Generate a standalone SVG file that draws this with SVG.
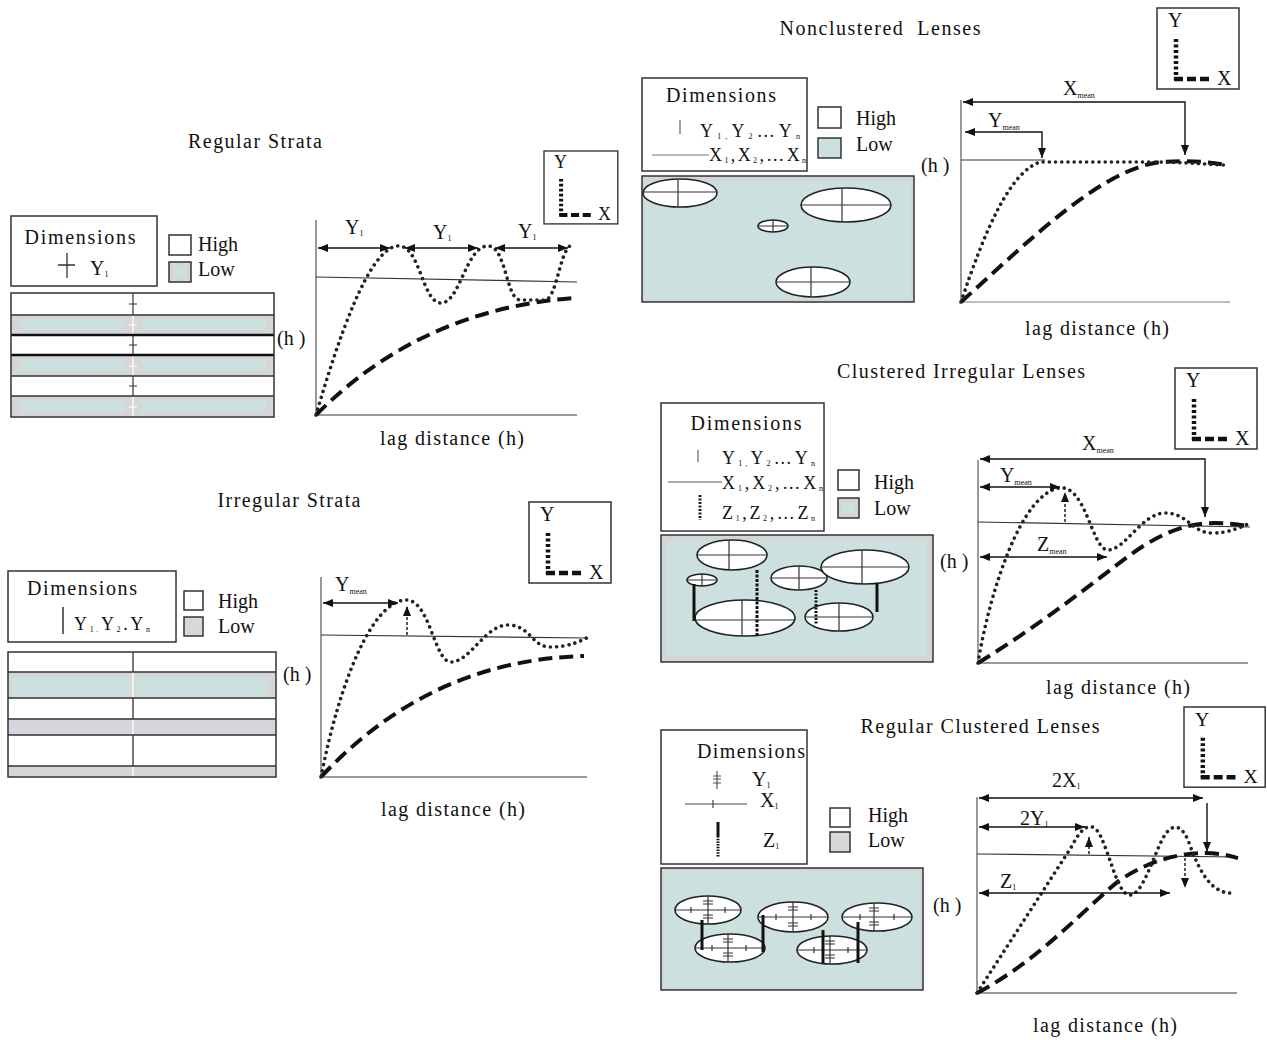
<svg xmlns="http://www.w3.org/2000/svg" width="1267" height="1040" viewBox="0 0 1267 1040">
<style>
text{font-family:"Liberation Serif","Times New Roman",serif;fill:#111}
.t19{font-size:20px}
.t20{font-size:20px}
.t17{font-size:18px}
.sub{font-size:8px}
.pre{white-space:pre}
.box{fill:#fff;stroke:#333;stroke-width:1.5}
.axis{stroke:#9a9a9a;stroke-width:2;fill:none}
.sill{stroke:#333;stroke-width:1.2;fill:none}
.dot{stroke:#222;stroke-width:3.6;stroke-dasharray:0.01 6.2;stroke-linecap:round;fill:none}
.dash{stroke:#111;stroke-width:4;stroke-dasharray:14 7;fill:none}
.ln{stroke:#111;stroke-width:1.4;fill:none}
.lnd{stroke:#111;stroke-width:1.4;stroke-dasharray:3 2;fill:none}
.lens{fill:#fff;stroke:#222;stroke-width:1.6}
.lx{stroke:#333;stroke-width:1.2;fill:none}
.link{stroke:#111;stroke-width:3;fill:none}
.vd{stroke:#111;stroke-width:4.5;stroke-dasharray:3 2.5;fill:none}
.hd{stroke:#111;stroke-width:4.5;stroke-dasharray:9 4;fill:none}
.grey{fill:#d6d6d6}
.teal{fill:#cde0e0}
</style>
<defs>
<marker id="ah" viewBox="0 0 10 8" refX="10" refY="4" markerWidth="11" markerHeight="8" orient="auto-start-reverse" markerUnits="userSpaceOnUse"><path d="M0,0L10,4L0,8z" fill="#111"/></marker>
<g id="yxinner">
<rect class="box" x="0" y="0" width="82" height="81"/>
<text class="t19" x="11" y="19" font-size="21">Y</text>
<path class="vd" d="M19,31V72"/>
<path class="hd" d="M17,71H56"/>
<text class="t19" x="60" y="77" font-size="21">X</text>
</g>
</defs>
<rect width="1267" height="1040" fill="#fff"/>

<!-- ============ Regular Strata ============ -->
<g id="regular-strata">
<text class="t19" x="255" y="148" text-anchor="middle" textLength="134">Regular Strata</text>
<g id="rs-dims">
<rect class="box" x="11" y="216" width="146" height="70"/>
<text class="t19" x="80" y="244" text-anchor="middle" textLength="111">Dimensions</text>
<path d="M67,253V278M58,265H75" stroke="#333" stroke-width="1.3"/>
<text class="t19" x="90" y="275">Y<tspan class="sub" dy="2">1</tspan></text>
</g>
<g id="rs-legend">
<rect class="box" x="169" y="235" width="22" height="20"/>
<text class="t20" x="198" y="251">High</text>
<rect x="169" y="262" width="22" height="20" fill="#d5d5d5" stroke="#333" stroke-width="1.5"/>
<rect x="174" y="267" width="12" height="10" class="teal"/>
<text class="t20" x="198" y="276">Low</text>
</g>
<g id="rs-block">
<rect x="11" y="293" width="263" height="124" fill="#fff"/>
<rect x="11" y="315" width="263" height="20" class="grey"/>
<rect x="11" y="355" width="263" height="21" class="grey"/>
<rect x="11" y="396" width="263" height="21" class="grey"/>
<rect x="21" y="319" width="104" height="11" class="teal"/>
<rect x="141" y="319" width="125" height="11" class="teal"/>
<rect x="21" y="359" width="104" height="12" class="teal"/>
<rect x="141" y="359" width="125" height="12" class="teal"/>
<rect x="21" y="400" width="104" height="12" class="teal"/>
<rect x="141" y="400" width="125" height="12" class="teal"/>
<path d="M133,293V315M133,335V355M133,376V396M129,304H137M129,345H137M129,386H137" stroke="#333" stroke-width="1.2"/>
<path d="M133,315V335M133,355V376M133,396V417M129,325H137M129,366H137M129,407H137" stroke="#fff" stroke-width="1.2"/>
<path d="M11,315H274M11,376H274M11,396H274" stroke="#333" stroke-width="1.3"/>
<path d="M11,335H274M11,355H274" stroke="#111" stroke-width="2.4"/>
<rect x="11" y="293" width="263" height="124" fill="none" stroke="#333" stroke-width="1.5"/>
</g>
<text class="t19" x="277" y="345">(h )</text>
<g id="rs-chart">
<path class="axis" d="M316,220V415H577"/>
<path class="sill" d="M316,277L577,282"/>
<path class="dash" d="M316,415Q420,310 573,298"/>
<path class="dot" d="M316,415C338,340 368,250 397,246C420,243 422,303 441,303C460,303 466,246 488,246C506,246 506,299 520,300L545,300C556,300 560,252 570,246"/>
<text class="t19" x="345" y="234">Y<tspan class="sub" dy="2">1</tspan></text>
<text class="t19" x="433" y="239">Y<tspan class="sub" dy="2">1</tspan></text>
<text class="t19" x="518" y="238">Y<tspan class="sub" dy="2">1</tspan></text>
<text class="t19" x="452" y="445" text-anchor="middle" textLength="144">lag distance (h)</text>
</g>
<use href="#yxinner" transform="translate(544,151) scale(0.9)"/>
</g>

<!-- ============ Irregular Strata ============ -->
<g id="irregular-strata">
<text class="t19" x="289" y="507" text-anchor="middle" textLength="143">Irregular Strata</text>
<g id="is-dims">
<rect class="box" x="8" y="571" width="168" height="71"/>
<text class="t19" x="82" y="595" text-anchor="middle" textLength="110">Dimensions</text>
<path d="M63,607V634" stroke="#333" stroke-width="1.5"/>
<text class="t17" x="74" y="630" textLength="76">Y<tspan class="sub" dy="2">1.</tspan><tspan dy="-2">Y</tspan><tspan class="sub" dy="2">2</tspan><tspan dy="-2">.Y</tspan><tspan class="sub" dy="2">n</tspan></text>
</g>
<g id="is-legend">
<rect class="box" x="184" y="591" width="19" height="19"/>
<text class="t20" x="218" y="608">High</text>
<rect x="184" y="617" width="19" height="19" fill="#d8d8dc" stroke="#333" stroke-width="1.5"/>
<text class="t20" x="218" y="633">Low</text>
</g>
<g id="is-block">
<rect x="8" y="652" width="268" height="125" fill="#fff"/>
<rect x="8" y="672" width="268" height="26" class="grey"/>
<rect x="12" y="677" width="118" height="20" class="teal"/>
<rect x="137" y="677" width="130" height="20" class="teal"/>
<rect x="8" y="719" width="268" height="16" fill="#d5d5dd"/>
<rect x="8" y="766" width="268" height="11" class="grey"/>
<path d="M133,652V672M133,698V719M133,735V766" stroke="#333" stroke-width="1.3"/>
<path d="M133,672V698M133,719V735M133,766V777" stroke="#fff" stroke-width="1.3"/>
<path d="M8,672H276M8,698H276M8,719H276M8,735H276M8,766H276" stroke="#333" stroke-width="1.3"/>
<rect x="8" y="652" width="268" height="125" fill="none" stroke="#333" stroke-width="1.5"/>
</g>
<text class="t19" x="283" y="681">(h )</text>
<g id="is-chart">
<path class="axis" d="M321,577V777H587"/>
<path class="sill" d="M321,635L587,638"/>
<path class="dash" d="M321,777Q430,660 584,656"/>
<path class="dot" d="M321,777C340,680 372,603 405,600C430,598 434,662 451,662C470,662 485,625 508,625C530,625 532,647 550,647C570,647 580,641 591,636"/>
<text class="t19" x="335" y="591">Y<tspan class="sub" dy="3">mean</tspan></text>
<text class="t19" x="453" y="816" text-anchor="middle" textLength="144">lag distance (h)</text>
</g>
<use href="#yxinner" transform="translate(529,502)"/>
</g>

<!-- ============ Nonclustered Lenses ============ -->
<g id="nonclustered-lenses">
<text class="t19 pre" x="880" y="35" text-anchor="middle" textLength="201" xml:space="preserve">Nonclustered  Lenses</text>
<g id="nc-dims">
<rect class="box" x="642" y="78" width="165" height="93"/>
<text class="t19" x="721" y="102" text-anchor="middle" textLength="110">Dimensions</text>
<path d="M680,120V134" stroke="#888" stroke-width="1.6"/>
<text class="t17" x="700" y="137" textLength="100">Y<tspan class="sub" dy="2">1,</tspan><tspan dy="-2">Y</tspan><tspan class="sub" dy="2">2</tspan><tspan dy="-2">…Y</tspan><tspan class="sub" dy="2">n</tspan></text>
<path d="M652,155H709" stroke="#777" stroke-width="1.2"/>
<text class="t17" x="709" y="161" textLength="97">X<tspan class="sub" dy="2">1</tspan><tspan dy="-2">,X</tspan><tspan class="sub" dy="2">2</tspan><tspan dy="-2">,…X</tspan><tspan class="sub" dy="2">n</tspan></text>
</g>
<g id="nc-legend">
<rect class="box" x="818" y="107" width="23" height="21"/>
<text class="t20" x="856" y="125">High</text>
<rect x="818" y="138" width="23" height="20" fill="#cde0e0" stroke="#333" stroke-width="1.5"/>
<text class="t20" x="856" y="151">Low</text>
</g>
<g id="nc-block">
<rect x="642" y="176" width="272" height="126" fill="#d3d6d8" stroke="#333" stroke-width="1.5"/>
<rect x="645" y="181" width="266" height="118" class="teal"/>
<ellipse class="lens" cx="680" cy="193" rx="37" ry="14"/>
<path class="lx" d="M643,192H717M678,179V207"/>
<ellipse class="lens" cx="846" cy="205" rx="45" ry="17"/>
<path class="lx" d="M801,205H891M842,188V222"/>
<ellipse class="lens" cx="773" cy="226" rx="15" ry="6"/>
<path class="lx" d="M758,226H788M773,220V232"/>
<ellipse class="lens" cx="813" cy="282" rx="37" ry="15"/>
<path class="lx" d="M776,282H850M811,267V297"/>
</g>
<text class="t19" x="921" y="172">(h )</text>
<g id="nc-chart">
<path class="axis" d="M961,100V302"/>
<path d="M961,302H1230" stroke="#c9b9bb" stroke-width="2"/>
<path class="sill" d="M961,160H1045"/>
<path class="dash" d="M961,302C1030,240 1100,170 1160,162C1190,160 1210,162 1226,165"/>
<path class="dot" d="M961,302C985,230 1010,172 1040,162L1150,162C1190,162 1210,165 1228,165"/>
<text class="t19" x="1063" y="95">X<tspan class="sub" dy="3">mean</tspan></text>
<text class="t19" x="988" y="127">Y<tspan class="sub" dy="3">mean</tspan></text>
<text class="t19" x="1097" y="335" text-anchor="middle" textLength="144">lag distance (h)</text>
</g>
<use href="#yxinner" transform="translate(1157,8)"/>
</g>

<!-- ============ Clustered Irregular Lenses ============ -->
<g id="clustered-irregular-lenses">
<text class="t19" x="961" y="378" text-anchor="middle" textLength="248">Clustered Irregular Lenses</text>
<g id="ci-dims">
<rect class="box" x="661" y="403" width="163" height="128"/>
<text class="t19" x="746" y="430" text-anchor="middle" textLength="111">Dimensions</text>
<path d="M698,450V462" stroke="#888" stroke-width="1.6"/>
<text class="t17" x="722" y="464" textLength="93">Y<tspan class="sub" dy="2">1,</tspan><tspan dy="-2">Y</tspan><tspan class="sub" dy="2">2</tspan><tspan dy="-2">…Y</tspan><tspan class="sub" dy="2">n</tspan></text>
<path d="M668,482H722" stroke="#555" stroke-width="1.2"/>
<text class="t17" x="722" y="489" textLength="101">X<tspan class="sub" dy="2">1</tspan><tspan dy="-2">,X</tspan><tspan class="sub" dy="2">2</tspan><tspan dy="-2">,…X</tspan><tspan class="sub" dy="2">n</tspan></text>
<path d="M700,495V520" stroke="#222" stroke-width="3" stroke-dasharray="2 1.5"/>
<text class="t17" x="722" y="519" textLength="93">Z<tspan class="sub" dy="2">1</tspan><tspan dy="-2">,Z</tspan><tspan class="sub" dy="2">2</tspan><tspan dy="-2">,…Z</tspan><tspan class="sub" dy="2">n</tspan></text>
</g>
<g id="ci-legend">
<rect class="box" x="838" y="470" width="21" height="20"/>
<text class="t20" x="874" y="489">High</text>
<rect x="838" y="498" width="21" height="20" fill="#d5d5d5" stroke="#333" stroke-width="1.5"/>
<rect x="842" y="502" width="13" height="12" class="teal"/>
<text class="t20" x="874" y="515">Low</text>
</g>
<g id="ci-block">
<rect x="661" y="535" width="272" height="127" fill="#d3d6d8" stroke="#333" stroke-width="1.5"/>
<rect x="667" y="541" width="260" height="115" class="teal"/>
<ellipse class="lens" cx="732" cy="555" rx="35" ry="15"/>
<path class="lx" d="M697,555H767M729,540V570"/>
<ellipse class="lens" cx="702" cy="580" rx="15" ry="6"/>
<path class="lx" d="M687,580H717M702,574V586"/>
<ellipse class="lens" cx="745" cy="618" rx="50" ry="18"/>
<path class="lx" d="M695,620H795M742,600V636"/>
<ellipse class="lens" cx="799" cy="578" rx="28" ry="12"/>
<path class="lx" d="M771,578H827M799,566V590"/>
<ellipse class="lens" cx="865" cy="567" rx="44" ry="17"/>
<path class="lx" d="M821,567H909M862,550V584"/>
<ellipse class="lens" cx="839" cy="617" rx="34" ry="14"/>
<path class="lx" d="M805,617H873M839,603V631"/>
<path class="link" d="M694,584V621"/>
<path class="link" d="M757,570V636" stroke-dasharray="3 1.5"/>
<path class="link" d="M816,590V624" stroke-dasharray="2 1.5"/>
<path class="link" d="M877,583V612"/>
</g>
<text class="t19" x="940" y="568">(h )</text>
<g id="ci-chart">
<path class="axis" d="M978,460V663H1248"/>
<path class="sill" d="M978,522L1250,527"/>
<path class="dash" d="M978,663C1040,625 1090,585 1130,555C1165,530 1190,523 1215,523C1230,523 1240,525 1248,526"/>
<path class="dot" d="M978,663C990,590 1022,492 1060,488C1086,485 1092,550 1108,550C1125,550 1142,513 1165,513C1188,513 1192,533 1212,533C1230,533 1240,527 1251,523"/>
<text class="t19" x="1082" y="450">X<tspan class="sub" dy="3">mean</tspan></text>
<text class="t19" x="1000" y="482">Y<tspan class="sub" dy="3">mean</tspan></text>
<text class="t19" x="1037" y="551">Z<tspan class="sub" dy="3">mean</tspan></text>
<text class="t19" x="1118" y="694" text-anchor="middle" textLength="144">lag distance (h)</text>
</g>
<use href="#yxinner" transform="translate(1175,368)"/>
</g>

<!-- ============ Regular Clustered Lenses ============ -->
<g id="regular-clustered-lenses">
<text class="t19" x="980" y="733" text-anchor="middle" textLength="239">Regular Clustered Lenses</text>
<g id="rc-dims">
<rect class="box" x="661" y="730" width="146" height="134"/>
<text class="t19" x="697" y="758" textLength="108">Dimensions</text>
<path d="M717,771V789M713,776H721M713,779H721M713,783H721" stroke="#555" stroke-width="1.2"/>
<text class="t19" x="752" y="786">Y<tspan class="sub" dy="2">1</tspan></text>
<path d="M685,804H747M713,800V808" stroke="#444" stroke-width="1.2"/>
<text class="t19" x="760" y="807">X<tspan class="sub" dy="2">1</tspan></text>
<path d="M718,822V836" stroke="#111" stroke-width="3"/>
<path d="M718,836V857" stroke="#111" stroke-width="3" stroke-dasharray="1.5 1.2"/>
<text class="t19" x="763" y="847">Z<tspan class="sub" dy="2">1</tspan></text>
</g>
<g id="rc-legend">
<rect class="box" x="830" y="808" width="20" height="19"/>
<text class="t20" x="868" y="822">High</text>
<rect x="830" y="832" width="20" height="20" fill="#d8d8d8" stroke="#333" stroke-width="1.5"/>
<text class="t20" x="868" y="847">Low</text>
</g>
<g id="rc-block">
<rect x="661" y="868" width="262" height="122" fill="#d3d6d8" stroke="#333" stroke-width="1.5"/>
<rect x="664" y="871" width="256" height="116" class="teal"/>
<ellipse class="lens" cx="708" cy="910" rx="33" ry="14"/>
<path class="lx" d="M675,910H741M708,896V924M703,901H713M703,904H713M703,915H713M703,918H713M691,907V913M725,907V913"/>
<ellipse class="lens" cx="793" cy="917" rx="35" ry="15"/>
<path class="lx" d="M758,917H828M793,902V932M788,907H798M788,910H798M788,923H798M788,926H798M776,914V920M811,914V920"/>
<ellipse class="lens" cx="877" cy="917" rx="35" ry="14"/>
<path class="lx" d="M842,917H912M874,903V931M869,908H879M869,911H879M869,922H879M869,925H879M860,914V920M894,914V920"/>
<ellipse class="lens" cx="730" cy="948" rx="35" ry="14"/>
<path class="lx" d="M695,948H765M728,934V962M723,939H733M723,942H733M723,953H733M723,956H733M712,945V951M746,945V951"/>
<ellipse class="lens" cx="832" cy="950" rx="35" ry="14"/>
<path class="lx" d="M797,950H867M830,936V964M825,941H835M825,944H835M825,955H835M825,958H835M814,947V953M848,947V953"/>
<path class="link" d="M702,920V950"/>
<path class="link" d="M763,915V952"/>
<path class="link" d="M823,930V963"/>
<path class="link" d="M858,922V963"/>
</g>
<text class="t19" x="933" y="912">(h )</text>
<g id="rc-chart">
<path class="axis" d="M977,797V993H1237"/>
<path class="sill" d="M977,854L1237,857"/>
<path class="dash" d="M977,993C1040,960 1088,905 1120,880C1150,860 1180,853 1205,853C1220,853 1230,856 1238,858"/>
<path class="dot" d="M977,993L1072,846C1082,826 1092,820 1100,835C1112,860 1118,895 1130,895C1142,895 1152,860 1162,840C1170,824 1180,822 1188,840C1198,868 1210,895 1234,893"/>
<text class="t19" x="1052" y="787">2X<tspan class="sub" dy="2">1</tspan></text>
<text class="t19" x="1020" y="825">2Y<tspan class="sub" dy="2">1</tspan></text>
<text class="t19" x="1000" y="888">Z<tspan class="sub" dy="2">1</tspan></text>
<text class="t19" x="1105" y="1032" text-anchor="middle" textLength="144">lag distance (h)</text>
</g>
<use href="#yxinner" transform="translate(1184,707) scale(0.99)"/>
</g>

<!-- ============ Connectors (arrows) ============ -->
<g id="connectors">
<path class="ln" d="M318,248H390" marker-start="url(#ah)" marker-end="url(#ah)"/>
<path class="ln" d="M405,248H478" marker-start="url(#ah)" marker-end="url(#ah)"/>
<path class="ln" d="M495,248H568" marker-start="url(#ah)" marker-end="url(#ah)"/>
<path class="ln" d="M323,603H398" marker-start="url(#ah)" marker-end="url(#ah)"/>
<path class="lnd" d="M407,635V606" marker-end="url(#ah)"/>
<path class="ln" d="M1185,155V102H963" marker-start="url(#ah)" marker-end="url(#ah)"/>
<path class="ln" d="M1042,158V132H965" marker-start="url(#ah)" marker-end="url(#ah)"/>
<path class="ln" d="M1205,517V459H980" marker-start="url(#ah)" marker-end="url(#ah)"/>
<path class="ln" d="M980,487H1060" marker-start="url(#ah)" marker-end="url(#ah)"/>
<path class="lnd" d="M1065,522V492" marker-end="url(#ah)"/>
<path class="ln" d="M980,557H1107" marker-start="url(#ah)" marker-end="url(#ah)"/>
<path class="ln" d="M979,798H1203" marker-start="url(#ah)" marker-end="url(#ah)"/>
<path class="ln" d="M1207,803V852" marker-end="url(#ah)"/>
<path class="ln" d="M979,827H1085" marker-start="url(#ah)" marker-end="url(#ah)"/>
<path class="lnd" d="M1089,854V837" marker-end="url(#ah)"/>
<path class="ln" d="M979,893H1170" marker-start="url(#ah)" marker-end="url(#ah)"/>
<path class="lnd" d="M1185,858V888" marker-end="url(#ah)"/>
</g>
</svg>
